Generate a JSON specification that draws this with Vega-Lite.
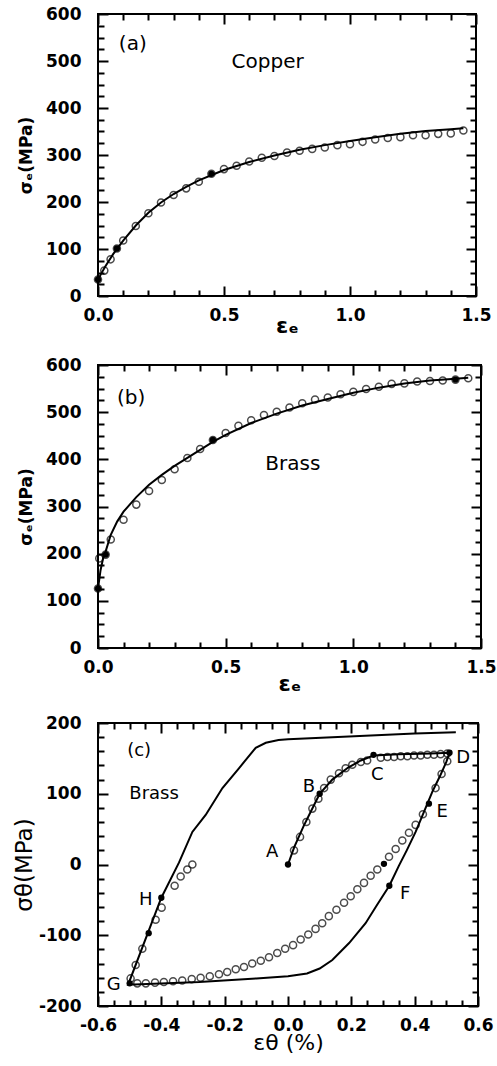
{
  "$schema": "https://vega.github.io/schema/vega-lite/v6.json",
  "background": "white",
  "padding": {"left": 12, "top": 4, "right": 0, "bottom": 5},
  "spacing": 18,
  "config": {
    "view": {"stroke": "black", "strokeWidth": 2},
    "axis": {"domain": false, "grid": false, "labelFont": "DejaVu Sans", "labelFontWeight": "bold", "labelFontSize": 17, "labelColor": "black", "titleFont": "DejaVu Sans", "titleColor": "black"},
    "text": {"font": "DejaVu Sans", "fontSize": 20, "color": "black"}
  },
  "datasets": {
    "copperFit": [
      {"x": 0, "y": 32}, {"x": 0.01, "y": 45}, {"x": 0.03, "y": 64}, {"x": 0.06, "y": 89}, {"x": 0.1, "y": 118}, {"x": 0.15, "y": 150}, {"x": 0.2, "y": 177}, {"x": 0.25, "y": 199}, {"x": 0.3, "y": 217}, {"x": 0.35, "y": 232}, {"x": 0.4, "y": 246}, {"x": 0.5, "y": 268}, {"x": 0.6, "y": 285}, {"x": 0.7, "y": 299}, {"x": 0.8, "y": 311}, {"x": 0.9, "y": 321}, {"x": 1.0, "y": 330}, {"x": 1.1, "y": 338}, {"x": 1.2, "y": 345}, {"x": 1.3, "y": 351}, {"x": 1.4, "y": 355}, {"x": 1.45, "y": 357}
    ],
    "copperExp": [
      {"x": 0, "y": 35, "kind": "solid"}, {"x": 0.025, "y": 54, "kind": "open"}, {"x": 0.05, "y": 78, "kind": "open"}, {"x": 0.075, "y": 101, "kind": "solid"}, {"x": 0.1, "y": 118, "kind": "open"}, {"x": 0.15, "y": 149, "kind": "open"}, {"x": 0.2, "y": 176, "kind": "open"}, {"x": 0.25, "y": 199, "kind": "open"}, {"x": 0.3, "y": 215, "kind": "open"}, {"x": 0.35, "y": 229, "kind": "open"}, {"x": 0.4, "y": 243, "kind": "open"}, {"x": 0.45, "y": 260, "kind": "solid"}, {"x": 0.5, "y": 270, "kind": "open"}, {"x": 0.55, "y": 277, "kind": "open"}, {"x": 0.6, "y": 286, "kind": "open"}, {"x": 0.65, "y": 294, "kind": "open"}, {"x": 0.7, "y": 298, "kind": "open"}, {"x": 0.75, "y": 305, "kind": "open"}, {"x": 0.8, "y": 309, "kind": "open"}, {"x": 0.85, "y": 313, "kind": "open"}, {"x": 0.9, "y": 316, "kind": "open"}, {"x": 0.95, "y": 321, "kind": "open"}, {"x": 1.0, "y": 323, "kind": "open"}, {"x": 1.05, "y": 328, "kind": "open"}, {"x": 1.1, "y": 333, "kind": "open"}, {"x": 1.15, "y": 336, "kind": "open"}, {"x": 1.2, "y": 338, "kind": "open"}, {"x": 1.25, "y": 342, "kind": "open"}, {"x": 1.3, "y": 342, "kind": "open"}, {"x": 1.35, "y": 345, "kind": "open"}, {"x": 1.4, "y": 346, "kind": "open"}, {"x": 1.45, "y": 352, "kind": "open"}
    ],
    "brassFit": [
      {"x": 0, "y": 126}, {"x": 0.01, "y": 165}, {"x": 0.02, "y": 190}, {"x": 0.03, "y": 205}, {"x": 0.05, "y": 240}, {"x": 0.075, "y": 268}, {"x": 0.1, "y": 289}, {"x": 0.15, "y": 320}, {"x": 0.2, "y": 346}, {"x": 0.25, "y": 367}, {"x": 0.3, "y": 386}, {"x": 0.35, "y": 403}, {"x": 0.4, "y": 420}, {"x": 0.45, "y": 437}, {"x": 0.5, "y": 452}, {"x": 0.6, "y": 477}, {"x": 0.7, "y": 497}, {"x": 0.8, "y": 514}, {"x": 0.9, "y": 528}, {"x": 1.0, "y": 541}, {"x": 1.1, "y": 552}, {"x": 1.2, "y": 561}, {"x": 1.3, "y": 567}, {"x": 1.4, "y": 571}, {"x": 1.45, "y": 573}
    ],
    "brassExp": [
      {"x": 0, "y": 126, "kind": "solid"}, {"x": 0.005, "y": 190, "kind": "open"}, {"x": 0.03, "y": 198, "kind": "solid"}, {"x": 0.05, "y": 230, "kind": "open"}, {"x": 0.1, "y": 272, "kind": "open"}, {"x": 0.15, "y": 304, "kind": "open"}, {"x": 0.2, "y": 333, "kind": "open"}, {"x": 0.25, "y": 356, "kind": "open"}, {"x": 0.3, "y": 379, "kind": "open"}, {"x": 0.35, "y": 403, "kind": "open"}, {"x": 0.4, "y": 422, "kind": "open"}, {"x": 0.45, "y": 441, "kind": "solid"}, {"x": 0.5, "y": 456, "kind": "open"}, {"x": 0.55, "y": 471, "kind": "open"}, {"x": 0.6, "y": 483, "kind": "open"}, {"x": 0.65, "y": 494, "kind": "open"}, {"x": 0.7, "y": 501, "kind": "open"}, {"x": 0.75, "y": 510, "kind": "open"}, {"x": 0.8, "y": 519, "kind": "open"}, {"x": 0.85, "y": 527, "kind": "open"}, {"x": 0.9, "y": 531, "kind": "open"}, {"x": 0.95, "y": 538, "kind": "open"}, {"x": 1.0, "y": 543, "kind": "open"}, {"x": 1.05, "y": 549, "kind": "open"}, {"x": 1.1, "y": 554, "kind": "open"}, {"x": 1.15, "y": 560, "kind": "open"}, {"x": 1.2, "y": 561, "kind": "open"}, {"x": 1.25, "y": 565, "kind": "open"}, {"x": 1.3, "y": 566, "kind": "open"}, {"x": 1.35, "y": 567, "kind": "open"}, {"x": 1.4, "y": 569, "kind": "solid"}, {"x": 1.45, "y": 572, "kind": "open"}
    ],
    "cycleFit": [
      {"o": 1, "x": 0, "y": 0}, {"o": 2, "x": 0.02, "y": 25}, {"o": 3, "x": 0.05, "y": 55}, {"o": 4, "x": 0.08, "y": 82}, {"o": 5, "x": 0.1, "y": 100}, {"o": 6, "x": 0.14, "y": 120}, {"o": 7, "x": 0.19, "y": 137}, {"o": 8, "x": 0.23, "y": 147}, {"o": 9, "x": 0.27, "y": 154}, {"o": 10, "x": 0.35, "y": 156}, {"o": 11, "x": 0.45, "y": 157}, {"o": 12, "x": 0.51, "y": 158},
      {"o": 13, "x": 0.5, "y": 145}, {"o": 14, "x": 0.48, "y": 125}, {"o": 15, "x": 0.456, "y": 103}, {"o": 16, "x": 0.43, "y": 75}, {"o": 17, "x": 0.403, "y": 46}, {"o": 18, "x": 0.375, "y": 20}, {"o": 19, "x": 0.35, "y": -2}, {"o": 20, "x": 0.32, "y": -30}, {"o": 21, "x": 0.28, "y": -58}, {"o": 22, "x": 0.245, "y": -83}, {"o": 23, "x": 0.193, "y": -111}, {"o": 24, "x": 0.14, "y": -135}, {"o": 25, "x": 0.1, "y": -147}, {"o": 26, "x": 0.06, "y": -154}, {"o": 27, "x": 0, "y": -158}, {"o": 28, "x": -0.1, "y": -161}, {"o": 29, "x": -0.28, "y": -166}, {"o": 30, "x": -0.505, "y": -170},
      {"o": 31, "x": -0.4, "y": -47}, {"o": 32, "x": -0.344, "y": 3}, {"o": 33, "x": -0.302, "y": 46}, {"o": 34, "x": -0.26, "y": 70}, {"o": 35, "x": -0.207, "y": 108}, {"o": 36, "x": -0.155, "y": 136}, {"o": 37, "x": -0.102, "y": 165}, {"o": 38, "x": -0.07, "y": 172}, {"o": 39, "x": -0.03, "y": 176}, {"o": 40, "x": 0, "y": 177}, {"o": 41, "x": 0.14, "y": 180}, {"o": 42, "x": 0.4, "y": 185}, {"o": 43, "x": 0.53, "y": 187}
    ],
    "cycleExp": [
      {"x": 0.019, "y": 20}, {"x": 0.038, "y": 39}, {"x": 0.058, "y": 60}, {"x": 0.077, "y": 79}, {"x": 0.096, "y": 93}, {"x": 0.114, "y": 108}, {"x": 0.135, "y": 120}, {"x": 0.161, "y": 129}, {"x": 0.182, "y": 136}, {"x": 0.203, "y": 141}, {"x": 0.23, "y": 145}, {"x": 0.25, "y": 147}, {"x": 0.293, "y": 151}, {"x": 0.314, "y": 152}, {"x": 0.335, "y": 152}, {"x": 0.356, "y": 153}, {"x": 0.377, "y": 153}, {"x": 0.398, "y": 154}, {"x": 0.419, "y": 154}, {"x": 0.44, "y": 155}, {"x": 0.461, "y": 155}, {"x": 0.482, "y": 156}, {"x": 0.503, "y": 157},
      {"x": 0.503, "y": 146}, {"x": 0.485, "y": 128}, {"x": 0.466, "y": 108}, {"x": 0.426, "y": 71}, {"x": 0.403, "y": 56}, {"x": 0.382, "y": 45}, {"x": 0.361, "y": 34}, {"x": 0.34, "y": 22}, {"x": 0.319, "y": 11}, {"x": 0.282, "y": -7}, {"x": 0.261, "y": -16}, {"x": 0.24, "y": -26}, {"x": 0.219, "y": -35}, {"x": 0.198, "y": -45}, {"x": 0.177, "y": -54}, {"x": 0.153, "y": -64}, {"x": 0.129, "y": -73}, {"x": 0.108, "y": -83}, {"x": 0.087, "y": -91}, {"x": 0.064, "y": -99}, {"x": 0.04, "y": -106}, {"x": 0.016, "y": -114}, {"x": -0.009, "y": -119}, {"x": -0.034, "y": -125}, {"x": -0.06, "y": -131}, {"x": -0.086, "y": -136}, {"x": -0.113, "y": -140}, {"x": -0.139, "y": -145}, {"x": -0.165, "y": -148}, {"x": -0.192, "y": -152}, {"x": -0.218, "y": -155}, {"x": -0.247, "y": -158}, {"x": -0.276, "y": -160}, {"x": -0.304, "y": -162}, {"x": -0.334, "y": -164}, {"x": -0.363, "y": -165}, {"x": -0.392, "y": -166}, {"x": -0.42, "y": -167}, {"x": -0.449, "y": -168}, {"x": -0.476, "y": -168},
      {"x": -0.497, "y": -161}, {"x": -0.481, "y": -142}, {"x": -0.46, "y": -119}, {"x": -0.418, "y": -78}, {"x": -0.399, "y": -61}, {"x": -0.358, "y": -30}, {"x": -0.339, "y": -17}, {"x": -0.318, "y": -7}, {"x": -0.302, "y": 0}
    ],
    "cycleSolid": [
      {"x": 0, "y": 0}, {"x": 0.1, "y": 100}, {"x": 0.27, "y": 155}, {"x": 0.51, "y": 158}, {"x": 0.445, "y": 86}, {"x": 0.303, "y": 1}, {"x": 0.32, "y": -30}, {"x": -0.5, "y": -168}, {"x": -0.4, "y": -47}, {"x": -0.44, "y": -97}
    ],
    "cycleText": [
      {"x": -0.47, "y": 160, "t": "(c)"}, {"x": -0.423, "y": 100, "t": "Brass"}, {"x": -0.05, "y": 17, "t": "A"}, {"x": 0.066, "y": 110, "t": "B"}, {"x": 0.282, "y": 127, "t": "C"}, {"x": 0.553, "y": 150, "t": "D"}, {"x": 0.487, "y": 74, "t": "E"}, {"x": 0.37, "y": -42, "t": "F"}, {"x": -0.55, "y": -171, "t": "G"}, {"x": -0.449, "y": -50, "t": "H"}
    ],
    "textA": [{"x": 0.138, "y": 537, "t": "(a)"}, {"x": 0.673, "y": 498, "t": "Copper"}],
    "textB": [{"x": 0.13, "y": 529, "t": "(b)"}, {"x": 0.763, "y": 391, "t": "Brass"}]
  },
  "vconcat": [
    {
      "width": 378, "height": 282,
      "resolve": {"axis": {"x": "independent", "y": "independent"}},
      "layer": [
        {
          "data": {"name": "copperFit"},
          "mark": {"type": "line", "color": "black", "strokeWidth": 2},
          "encoding": {
            "x": {"field": "x", "type": "quantitative", "scale": {"domain": [0, 1.5], "nice": false, "zero": false},
              "axis": {"orient": "bottom", "values": [0, 0.5, 1, 1.5], "format": ".1f", "ticks": false, "tickSize": 0, "labelFlush": false, "labelPadding": 11, "title": "εₑ", "titleFontSize": 22, "titleFontWeight": "bold", "titlePadding": -8}},
            "y": {"field": "y", "type": "quantitative", "scale": {"domain": [0, 600], "nice": false},
              "axis": {"orient": "left", "values": [0, 100, 200, 300, 400, 500, 600], "ticks": false, "tickSize": 0, "labelFlush": false, "labelPadding": 17, "title": "σₑ(MPa)", "titleFontSize": 17, "titleFontWeight": "bold", "titlePadding": 10}}
          }
        },
        {
          "data": {"name": "copperExp"},
          "mark": {"type": "point", "shape": "circle", "filled": false, "size": 50, "strokeWidth": 1.5, "color": "black"},
          "encoding": {
            "x": {"field": "x", "type": "quantitative", "axis": {"orient": "top", "values": [0, 0.5, 1, 1.5], "labels": false, "tickColor": "black", "tickWidth": 2, "offset": -10, "tickSize": 10, "title": null}},
            "y": {"field": "y", "type": "quantitative", "axis": {"orient": "right", "values": [0, 100, 200, 300, 400, 500, 600], "labels": false, "tickColor": "black", "tickWidth": 2, "offset": -10, "tickSize": 10, "title": null}}
          }
        },
        {
          "data": {"name": "copperExp"},
          "transform": [{"filter": "datum.kind == 'solid'"}],
          "mark": {"type": "point", "shape": "circle", "filled": true, "size": 40, "color": "black", "opacity": 1},
          "encoding": {
            "x": {"field": "x", "type": "quantitative", "axis": {"orient": "top", "values": [0, 0.5, 1, 1.5], "labels": false, "tickColor": "black", "tickWidth": 2, "offset": -282, "tickSize": 10, "title": null}},
            "y": {"field": "y", "type": "quantitative", "axis": {"orient": "right", "values": [0, 100, 200, 300, 400, 500, 600], "labels": false, "tickColor": "black", "tickWidth": 2, "offset": -378, "tickSize": 10, "title": null}}
          }
        },
        {
          "data": {"name": "textA"},
          "transform": [{"filter": "datum.t == '(a)'"}],
          "mark": {"type": "text", "align": "center", "baseline": "middle"},
          "encoding": {
            "x": {"field": "x", "type": "quantitative", "axis": {"orient": "top", "values": [0.1, 0.2, 0.3, 0.4, 0.6, 0.7, 0.8, 0.9, 1.1, 1.2, 1.3, 1.4], "labels": false, "tickColor": "black", "tickWidth": 2, "offset": -6, "tickSize": 6, "title": null}},
            "y": {"field": "y", "type": "quantitative", "axis": {"orient": "right", "values": [25, 50, 75, 125, 150, 175, 225, 250, 275, 325, 350, 375, 425, 450, 475, 525, 550, 575], "labels": false, "tickColor": "black", "tickWidth": 2, "offset": -6, "tickSize": 6, "title": null}},
            "text": {"field": "t"}
          }
        },
        {
          "data": {"name": "textA"},
          "transform": [{"filter": "datum.t != '(a)'"}],
          "mark": {"type": "text", "align": "center", "baseline": "middle"},
          "encoding": {
            "x": {"field": "x", "type": "quantitative", "axis": {"orient": "top", "values": [0.1, 0.2, 0.3, 0.4, 0.6, 0.7, 0.8, 0.9, 1.1, 1.2, 1.3, 1.4], "labels": false, "tickColor": "black", "tickWidth": 2, "offset": -282, "tickSize": 6, "title": null}},
            "y": {"field": "y", "type": "quantitative", "axis": {"orient": "right", "values": [25, 50, 75, 125, 150, 175, 225, 250, 275, 325, 350, 375, 425, 450, 475, 525, 550, 575], "labels": false, "tickColor": "black", "tickWidth": 2, "offset": -378, "tickSize": 6, "title": null}},
            "text": {"field": "t"}
          }
        }
      ]
    },
    {
      "width": 383, "height": 283,
      "resolve": {"axis": {"x": "independent", "y": "independent"}},
      "layer": [
        {
          "data": {"name": "brassFit"},
          "mark": {"type": "line", "color": "black", "strokeWidth": 2},
          "encoding": {
            "x": {"field": "x", "type": "quantitative", "scale": {"domain": [0, 1.5], "nice": false, "zero": false},
              "axis": {"orient": "bottom", "values": [0, 0.5, 1, 1.5], "format": ".1f", "ticks": false, "tickSize": 0, "labelFlush": false, "labelPadding": 11, "title": "εₑ", "titleFontSize": 22, "titleFontWeight": "bold", "titlePadding": -2}},
            "y": {"field": "y", "type": "quantitative", "scale": {"domain": [0, 600], "nice": false},
              "axis": {"orient": "left", "values": [0, 100, 200, 300, 400, 500, 600], "ticks": false, "tickSize": 0, "labelFlush": false, "labelPadding": 17, "title": "σₑ(MPa)", "titleFontSize": 17, "titleFontWeight": "bold", "titlePadding": 10}}
          }
        },
        {
          "data": {"name": "brassExp"},
          "mark": {"type": "point", "shape": "circle", "filled": false, "size": 50, "strokeWidth": 1.5, "color": "black"},
          "encoding": {
            "x": {"field": "x", "type": "quantitative", "axis": {"orient": "top", "values": [0, 0.5, 1, 1.5], "labels": false, "tickColor": "black", "tickWidth": 2, "offset": -10, "tickSize": 10, "title": null}},
            "y": {"field": "y", "type": "quantitative", "axis": {"orient": "right", "values": [0, 100, 200, 300, 400, 500, 600], "labels": false, "tickColor": "black", "tickWidth": 2, "offset": -10, "tickSize": 10, "title": null}}
          }
        },
        {
          "data": {"name": "brassExp"},
          "transform": [{"filter": "datum.kind == 'solid'"}],
          "mark": {"type": "point", "shape": "circle", "filled": true, "size": 40, "color": "black", "opacity": 1},
          "encoding": {
            "x": {"field": "x", "type": "quantitative", "axis": {"orient": "top", "values": [0, 0.5, 1, 1.5], "labels": false, "tickColor": "black", "tickWidth": 2, "offset": -283, "tickSize": 10, "title": null}},
            "y": {"field": "y", "type": "quantitative", "axis": {"orient": "right", "values": [0, 100, 200, 300, 400, 500, 600], "labels": false, "tickColor": "black", "tickWidth": 2, "offset": -383, "tickSize": 10, "title": null}}
          }
        },
        {
          "data": {"name": "textB"},
          "transform": [{"filter": "datum.t == '(b)'"}],
          "mark": {"type": "text", "align": "center", "baseline": "middle"},
          "encoding": {
            "x": {"field": "x", "type": "quantitative", "axis": {"orient": "top", "values": [0.1, 0.2, 0.3, 0.4, 0.6, 0.7, 0.8, 0.9, 1.1, 1.2, 1.3, 1.4], "labels": false, "tickColor": "black", "tickWidth": 2, "offset": -6, "tickSize": 6, "title": null}},
            "y": {"field": "y", "type": "quantitative", "axis": {"orient": "right", "values": [25, 50, 75, 125, 150, 175, 225, 250, 275, 325, 350, 375, 425, 450, 475, 525, 550, 575], "labels": false, "tickColor": "black", "tickWidth": 2, "offset": -6, "tickSize": 6, "title": null}},
            "text": {"field": "t"}
          }
        },
        {
          "data": {"name": "textB"},
          "transform": [{"filter": "datum.t != '(b)'"}],
          "mark": {"type": "text", "align": "center", "baseline": "middle"},
          "encoding": {
            "x": {"field": "x", "type": "quantitative", "axis": {"orient": "top", "values": [0.1, 0.2, 0.3, 0.4, 0.6, 0.7, 0.8, 0.9, 1.1, 1.2, 1.3, 1.4], "labels": false, "tickColor": "black", "tickWidth": 2, "offset": -283, "tickSize": 6, "title": null}},
            "y": {"field": "y", "type": "quantitative", "axis": {"orient": "right", "values": [25, 50, 75, 125, 150, 175, 225, 250, 275, 325, 350, 375, 425, 450, 475, 525, 550, 575], "labels": false, "tickColor": "black", "tickWidth": 2, "offset": -383, "tickSize": 6, "title": null}},
            "text": {"field": "t"}
          }
        }
      ]
    },
    {
      "width": 380, "height": 283,
      "resolve": {"axis": {"x": "independent", "y": "independent"}},
      "layer": [
        {
          "data": {"name": "cycleFit"},
          "mark": {"type": "line", "color": "black", "strokeWidth": 2},
          "encoding": {
            "x": {"field": "x", "type": "quantitative", "scale": {"domain": [-0.6, 0.6], "nice": false, "zero": false},
              "axis": {"orient": "bottom", "values": [-0.6, -0.4, -0.2, 0, 0.2, 0.4, 0.6], "labelExpr": "replace(format(datum.value,'.1f'),'\u2212','-')", "ticks": false, "tickSize": 0, "labelFlush": false, "labelPadding": 11, "title": "εθ (%)", "titleFontSize": 22, "titleFontWeight": "normal", "titlePadding": -1}},
            "y": {"field": "y", "type": "quantitative", "scale": {"domain": [-200, 200], "nice": false, "zero": false},
              "axis": {"orient": "left", "values": [-200, -100, 0, 100, 200], "labelExpr": "'' + datum.value", "ticks": false, "tickSize": 0, "labelFlush": false, "labelPadding": 17, "title": "σθ(MPa)", "titleFontSize": 23, "titleFontWeight": "normal", "titlePadding": 2}},
            "order": {"field": "o", "type": "quantitative"}
          }
        },
        {
          "data": {"name": "cycleExp"},
          "mark": {"type": "point", "shape": "circle", "filled": false, "size": 50, "strokeWidth": 1.5, "color": "black"},
          "encoding": {
            "x": {"field": "x", "type": "quantitative", "axis": {"orient": "top", "values": [-0.6, -0.4, -0.2, 0, 0.2, 0.4, 0.6], "labels": false, "tickColor": "black", "tickWidth": 2, "offset": -10, "tickSize": 10, "title": null}},
            "y": {"field": "y", "type": "quantitative", "axis": {"orient": "right", "values": [-200, -100, 0, 100, 200], "labels": false, "tickColor": "black", "tickWidth": 2, "offset": -10, "tickSize": 10, "title": null}}
          }
        },
        {
          "data": {"name": "cycleSolid"},
          "mark": {"type": "point", "shape": "circle", "filled": true, "size": 40, "color": "black", "opacity": 1},
          "encoding": {
            "x": {"field": "x", "type": "quantitative", "axis": {"orient": "top", "values": [-0.6, -0.4, -0.2, 0, 0.2, 0.4, 0.6], "labels": false, "tickColor": "black", "tickWidth": 2, "offset": -283, "tickSize": 10, "title": null}},
            "y": {"field": "y", "type": "quantitative", "axis": {"orient": "right", "values": [-200, -100, 0, 100, 200], "labels": false, "tickColor": "black", "tickWidth": 2, "offset": -380, "tickSize": 10, "title": null}}
          }
        },
        {
          "mark": {"type": "rule", "color": "black", "strokeWidth": 2, "strokeDash": [2, 5]},
          "encoding": {"x": {"datum": 0, "type": "quantitative", "axis": null}}
        },
        {
          "mark": {"type": "rule", "color": "black", "strokeWidth": 2, "strokeDash": [2, 5]},
          "encoding": {"y": {"datum": 0, "type": "quantitative", "axis": null}}
        },
        {
          "data": {"name": "cycleText"},
          "transform": [{"filter": "length(datum.t) > 1"}],
          "mark": {"type": "text", "align": "center", "baseline": "middle", "fontSize": 18},
          "encoding": {
            "x": {"field": "x", "type": "quantitative", "axis": {"orient": "top", "values": [-0.55, -0.5, -0.45, -0.35, -0.3, -0.25, -0.15, -0.1, -0.05, 0.05, 0.1, 0.15, 0.25, 0.3, 0.35, 0.45, 0.5, 0.55], "labels": false, "tickColor": "black", "tickWidth": 2, "offset": -6, "tickSize": 6, "title": null}},
            "y": {"field": "y", "type": "quantitative", "axis": {"orient": "right", "values": [-180, -160, -140, -120, -80, -60, -40, -20, 20, 40, 60, 80, 120, 140, 160, 180], "labels": false, "tickColor": "black", "tickWidth": 2, "offset": -6, "tickSize": 6, "title": null}},
            "text": {"field": "t"}
          }
        },
        {
          "data": {"name": "cycleText"},
          "transform": [{"filter": "length(datum.t) == 1"}],
          "mark": {"type": "text", "align": "center", "baseline": "middle", "fontSize": 18},
          "encoding": {
            "x": {"field": "x", "type": "quantitative", "axis": {"orient": "top", "values": [-0.55, -0.5, -0.45, -0.35, -0.3, -0.25, -0.15, -0.1, -0.05, 0.05, 0.1, 0.15, 0.25, 0.3, 0.35, 0.45, 0.5, 0.55], "labels": false, "tickColor": "black", "tickWidth": 2, "offset": -283, "tickSize": 6, "title": null}},
            "y": {"field": "y", "type": "quantitative", "axis": {"orient": "right", "values": [-180, -160, -140, -120, -80, -60, -40, -20, 20, 40, 60, 80, 120, 140, 160, 180], "labels": false, "tickColor": "black", "tickWidth": 2, "offset": -380, "tickSize": 6, "title": null}},
            "text": {"field": "t"}
          }
        }
      ]
    }
  ]
}
